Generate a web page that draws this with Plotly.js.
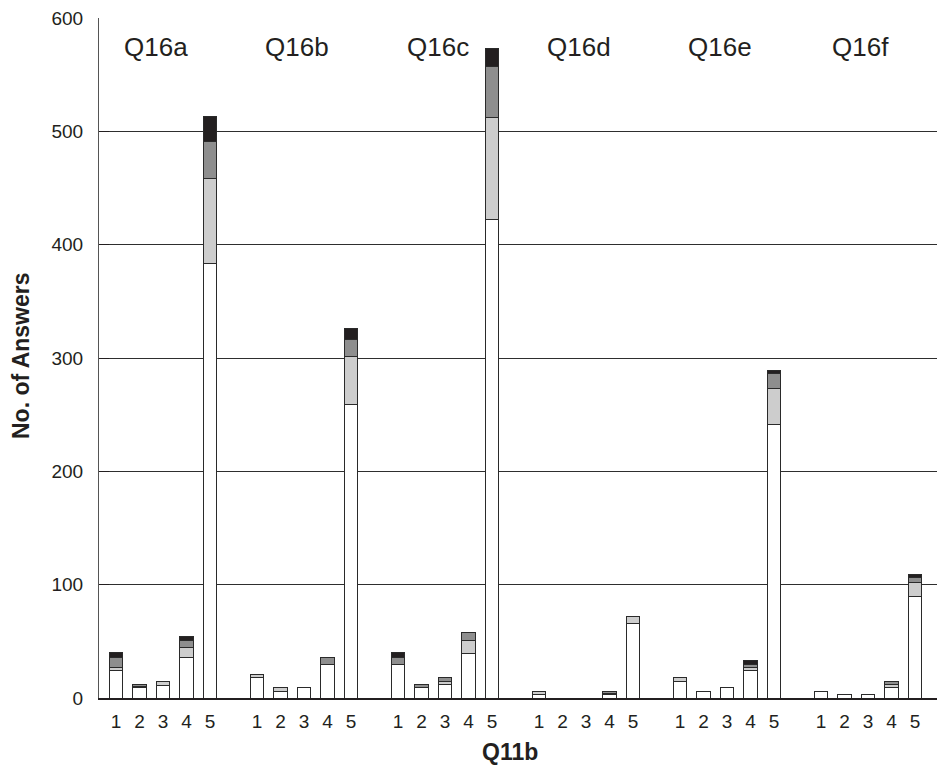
<!DOCTYPE html>
<html>
<head>
<meta charset="utf-8">
<script src="https://cdn.plot.ly/plotly-3.0.1.min.js"></script>
<style>html,body{margin:0;padding:0;background:#fff;}#chart{width:937px;height:767px;}</style>
</head>
<body>
<div id="chart"></div>
<script>
// Groups (Q16 items) and answer categories (Q11b)
const groups = ["Q16a", "Q16b", "Q16c", "Q16d", "Q16e", "Q16f"];
const answers = ["1", "2", "3", "4", "5"];

// Stack segments, per group, per answer 1..5
const whiteVals = [
  [24, 9, 11, 36, 383],
  [18, 6, 9, 30, 259],
  [30, 9, 12, 39, 422],
  [3, 0, 0, 3, 66],
  [15, 6, 9, 24, 241],
  [6, 3, 3, 9, 90]
];
const lightVals = [
  [3, 1, 4, 9, 75],
  [3, 3, 0, 0, 42],
  [0, 0, 3, 12, 90],
  [3, 0, 0, 1, 6],
  [3, 0, 0, 3, 32],
  [0, 0, 0, 3, 12]
];
const midVals = [
  [9, 2, 0, 6, 33],
  [0, 0, 0, 6, 15],
  [6, 3, 3, 7, 45],
  [0, 0, 0, 2, 0],
  [0, 0, 0, 3, 13],
  [0, 0, 0, 3, 4]
];
const blackVals = [
  [4, 0, 0, 3, 22],
  [0, 0, 0, 0, 10],
  [4, 0, 0, 0, 16],
  [0, 0, 0, 0, 0],
  [0, 0, 0, 3, 3],
  [0, 0, 0, 0, 3]
];

const slotsPerGroup = answers.length + 1;
const xs = [], tickText = [];
groups.forEach((g, gi) => answers.forEach((a, ai) => {
  xs.push(gi * slotsPerGroup + ai);
  tickText.push(a);
}));
const flat = arr => arr.flat().map(v => (v === 0 ? null : v));

const series = [
  {name: "white", vals: whiteVals, color: "#ffffff"},
  {name: "light", vals: lightVals, color: "#cdcdcd"},
  {name: "mid", vals: midVals, color: "#8e8e8e"},
  {name: "black", vals: blackVals, color: "#231f20"}
];

const traces = series.map(s => ({
  type: "bar",
  name: s.name,
  x: xs,
  y: flat(s.vals),
  width: 0.58,
  marker: {color: s.color, line: {color: "#2a2a2a", width: 1}},
  hoverinfo: "y"
}));

const font = "Liberation Sans, Arial, Helvetica, sans-serif";

const annotations = groups.map((g, gi) => ({
  text: g, xref: "x", yref: "paper",
  x: gi * slotsPerGroup + 1.7, y: 0.958,
  xanchor: "center", yanchor: "middle",
  showarrow: false,
  font: {family: font, size: 26, color: "#231f20"}
}));
annotations.push({
  text: "<b>Q11b</b>", xref: "paper", yref: "paper",
  x: 0.49, y: -0.079, xanchor: "center", yanchor: "middle",
  showarrow: false, font: {family: font, size: 23, color: "#231f20"}
});
annotations.push({
  text: "<b>No. of Answers</b>", xref: "paper", yref: "paper",
  x: -0.093, y: 0.503, xanchor: "center", yanchor: "middle",
  textangle: -90, showarrow: false,
  font: {family: font, size: 23, color: "#231f20"}
});

const layout = {
  width: 937, height: 767,
  margin: {l: 99, r: 0, t: 18, b: 69},
  paper_bgcolor: "#fff", plot_bgcolor: "#fff",
  barmode: "stack",
  showlegend: false,
  font: {family: font, color: "#231f20"},
  xaxis: {
    range: [-0.72, 34.94],
    tickvals: xs, ticktext: tickText,
    ticks: "", showgrid: false, zeroline: false,
    showline: true, linecolor: "#231f20", linewidth: 1.5,
    tickfont: {family: font, size: 19, color: "#231f20"},
    ticklabelstandoff: 6
  },
  yaxis: {
    range: [0, 600], tickvals: [0, 100, 200, 300, 400, 500, 600],
    ticks: "inside", ticklen: 10, tickcolor: "#231f20", tickwidth: 1,
    showgrid: true, gridcolor: "#2e2e2e", gridwidth: 1,
    zeroline: false,
    showline: true, linecolor: "#555", linewidth: 1,
    tickfont: {family: font, size: 19, color: "#231f20"},
    ticklabelstandoff: 11
  },
  annotations: annotations
};

Plotly.newPlot("chart", traces, layout, {displayModeBar: false, staticPlot: true});
</script>
</body>
</html>
